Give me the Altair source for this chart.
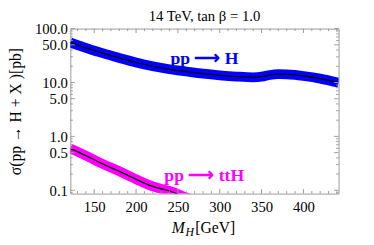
import altair as alt
import pandas as pd

# ---- data ----
mh_gg = [121.5, 140, 160, 180, 200, 220, 240, 260, 280, 300, 320, 340, 350, 360, 370, 380, 390, 400, 420, 442]
xs_gg = [55, 44, 35, 28.5, 23.5, 20, 17.6, 16, 14.6, 13.6, 12.9, 12.5, 12.8, 13.8, 14.3, 14.2, 13.8, 13.2, 11.8, 9.9]

mh_tth = [121.5, 140, 160, 180, 200, 220, 240, 260, 280]
xs_tth = [0.60, 0.44, 0.31, 0.225, 0.16, 0.118, 0.097, 0.074, 0.057]

x_major = [150, 200, 250, 300, 350, 400]
x_minor = [v for v in range(130, 441, 10) if v % 50 != 0]
y_major = [0.1, 0.5, 1, 5, 10, 50, 100]
y_minor = [0.09, 0.2, 0.3, 0.4, 0.6, 0.7, 0.8, 0.9, 2, 3, 4, 6, 7, 8, 9, 20, 30, 40, 60, 70, 80, 90]

labels = ["pp ⟶ H", "pp ⟶ ttH"]
label_x = [281.7, 281.5]
label_y = [21.9, 0.146]
label_col = ["#0000ff", "#ff00ff"]

title_text = "14 TeV, tan β = 1.0"
ytitle_text = "σ(pp → H + X )[pb]"

W, H = 274, 168.5
XDOM = [121.5, 442]
YDOM = [0.087, 100]
SERIF = "Liberation Serif"
FRAME = "#9a9a9a"

gg = pd.DataFrame({"m": mh_gg, "s": xs_gg})
tth = pd.DataFrame({"m": mh_tth, "s": xs_tth})
lab = pd.DataFrame({"t": labels, "m": label_x, "s": label_y, "c": label_col})

xsc = alt.Scale(domain=XDOM, nice=False, zero=False)
ysc = alt.Scale(type="log", domain=YDOM, nice=False)

xaxis = alt.Axis(values=x_major, format="d", title=None, ticks=False, tickSize=0,
                 labelPadding=6, domain=False, grid=False,
                 labelFont=SERIF, labelFontSize=15, labelColor="black")
yaxis = alt.Axis(values=y_major, format=".1f", title=ytitle_text,
                 ticks=False, tickSize=0, labelPadding=3, domain=False, grid=False,
                 labelFont=SERIF, labelFontSize=15, labelColor="black",
                 titleFont=SERIF, titleFontSize=16, titleFontWeight="normal",
                 titleColor="black",
                 titleX=-48, titleY=H / 2, titleBaseline="bottom", titleAngle=270)

X = alt.X("m:Q", scale=xsc, axis=xaxis)
Y = alt.Y("s:Q", scale=ysc, axis=yaxis)


def band(df, color):
    b = alt.Chart(df).mark_line(color=color, strokeWidth=10, clip=True,
                                interpolate="monotone").encode(x=X, y=Y)
    c = alt.Chart(df).mark_line(color="black", strokeWidth=1.3, clip=True,
                                interpolate="monotone").encode(x=X, y=Y)
    return [b, c]


layers = band(gg, "#0000ff") + band(tth, "#ff00ff")

layers.append(
    alt.Chart(lab).mark_text(font=SERIF, fontSize=18, fontWeight="bold",
                             baseline="alphabetic", align="center").encode(
        x=alt.X("m:Q", scale=xsc), y=alt.Y("s:Q", scale=ysc),
        text="t:N", color=alt.Color("c:N", scale=None))
)


def xticks(vals, ln):
    d = pd.DataFrame({"m": vals})
    bot = alt.Chart(d).mark_rule(color=FRAME, strokeWidth=1).encode(
        x=alt.X("m:Q", scale=xsc), y=alt.value(H), y2=alt.value(H - ln))
    top = alt.Chart(d).mark_rule(color=FRAME, strokeWidth=1).encode(
        x=alt.X("m:Q", scale=xsc), y=alt.value(0), y2=alt.value(ln))
    return [bot, top]


def yticks(vals, ln):
    d = pd.DataFrame({"s": vals})
    lft = alt.Chart(d).mark_rule(color=FRAME, strokeWidth=1).encode(
        y=alt.Y("s:Q", scale=ysc), x=alt.value(0), x2=alt.value(ln))
    rgt = alt.Chart(d).mark_rule(color=FRAME, strokeWidth=1).encode(
        y=alt.Y("s:Q", scale=ysc), x=alt.value(W), x2=alt.value(W - ln))
    return [lft, rgt]


layers += xticks(x_major, 4.5) + xticks(x_minor, 2.5)
layers += yticks(y_major, 4.5) + yticks(y_minor, 2.5)

# chart title as text
layers.append(
    alt.Chart(pd.DataFrame({"t": [title_text]})).mark_text(
        font=SERIF, fontSize=15, align="center", baseline="alphabetic",
        color="black").encode(text="t:N", x=alt.value(W / 2), y=alt.value(-7.5))
)

# x-axis title with subscript
xt = pd.DataFrame({"t": ["M", "H", "[GeV]"], "px": [103.5, 117.5, 127.5],
                   "py": [209.0, 212.0, 209.0], "fs": [16, 12, 16],
                   "st": ["italic", "italic", "normal"]})
for i in range(3):
    row = xt.iloc[[i]]
    layers.append(
        alt.Chart(row).mark_text(font=SERIF, fontSize=float(row.fs.iloc[0]),
                                 fontStyle=row.st.iloc[0], align="left",
                                 baseline="alphabetic", color="black").encode(
            text="t:N", x=alt.value(float(row.px.iloc[0])),
            y=alt.value(float(row.py.iloc[0])))
    )

chart = alt.layer(*layers).properties(
    width=W, height=H,
    autosize=alt.AutoSizeParams(type="none"),
    padding={"left": 63.7, "top": 18.5, "right": 28, "bottom": 50},
    background="white",
).configure_view(stroke=FRAME, strokeWidth=1)

chart.save("out.html", embed_options={"renderer": "svg", "actions": False})
